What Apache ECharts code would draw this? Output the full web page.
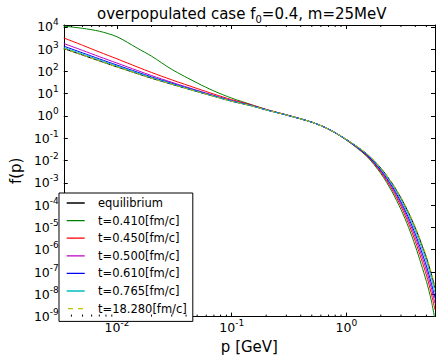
<!DOCTYPE html>
<html><head><meta charset="utf-8">
<script src="https://cdn.jsdelivr.net/npm/echarts@6/dist/echarts.min.js"></script>
<style>html,body{margin:0;padding:0;background:#fff}#c{width:436px;height:359px}</style>
</head><body><div id="c"></div>
<script>
// momentum grid p [GeV]
const p = [0.00343, 0.005, 0.007, 0.01, 0.015, 0.02, 0.03, 0.05, 0.07, 0.1, 0.15, 0.2, 0.3, 0.5, 0.7,
           1.0, 1.5, 2.0, 2.5, 3.0, 3.5, 4.0, 4.5, 5.0, 5.5, 5.94];
const fEquilibrium = [1.05e3, 537, 295, 158, 79.4, 49.0, 26.3, 12.3, 7.59, 4.57, 2.82, 1.86, 1.10, 0.525, 0.257,
           0.0891, 0.0204, 4.57e-3, 9.77e-4, 2.09e-4, 4.47e-5, 9.55e-6, 2.00e-6, 4.37e-7, 8.71e-8, 1.91e-8];
const fT0410 = [1.07e4, 8.51e3, 6.31e3, 3.55e3, 1.10e3, 479, 123, 30.2, 13.2, 6.31, 3.16, 1.95, 1.12, 0.525, 0.257,
           0.0832, 0.0158, 2.63e-3, 4.07e-4, 6.31e-5, 9.77e-6, 1.48e-6, 2.24e-7, 3.80e-8, 5.62e-9, 7.08e-10];
const fT0450 = [3.16e3, 1.48e3, 741, 363, 158, 89.1, 41.7, 17.0, 9.55, 5.37, 3.09, 1.95, 1.12, 0.525, 0.257,
           0.0851, 0.0170, 3.02e-3, 5.13e-4, 8.71e-5, 1.45e-5, 2.40e-6, 3.98e-7, 7.24e-8, 1.15e-8, 2.04e-9];
const fT0500 = [1.78e3, 871, 457, 234, 110, 64.6, 32.4, 14.1, 8.41, 4.90, 2.95, 1.91, 1.11, 0.525, 0.257,
           0.0851, 0.0178, 3.39e-3, 6.17e-4, 1.12e-4, 2.00e-5, 3.55e-6, 6.31e-7, 1.20e-7, 2.04e-8, 3.89e-9];
const fT0610 = [1.35e3, 676, 363, 191, 93.3, 56.2, 29.2, 13.2, 7.94, 4.73, 2.88, 1.88, 1.10, 0.525, 0.257,
           0.0871, 0.0186, 3.72e-3, 7.24e-4, 1.38e-4, 2.63e-5, 5.01e-6, 9.33e-7, 1.86e-7, 3.31e-8, 6.76e-9];
const fT0765 = [1.17e3, 596, 324, 172, 85.1, 51.9, 27.5, 12.7, 7.76, 4.62, 2.82, 1.86, 1.10, 0.525, 0.257,
           0.0871, 0.0200, 4.17e-3, 8.51e-4, 1.74e-4, 3.55e-5, 7.08e-6, 1.41e-6, 3.02e-7, 5.62e-8, 1.17e-8];
const fT18280 = [1.05e3, 537, 295, 158, 79.4, 49.0, 26.3, 12.3, 7.59, 4.57, 2.82, 1.86, 1.10, 0.525, 0.257,
           0.0891, 0.0209, 4.68e-3, 1.02e-3, 2.24e-4, 4.90e-5, 1.05e-5, 2.24e-6, 5.01e-7, 1.00e-7, 2.24e-8];
const seriesNames = ['equilibrium', 't=0.410[fm/c]', 't=0.450[fm/c]', 't=0.500[fm/c]',
                     't=0.610[fm/c]', 't=0.765[fm/c]', 't=18.280[fm/c]'];
const minorTicksX = [0.004, 0.005, 0.006, 0.007, 0.008, 0.009, 0.02, 0.03, 0.04, 0.05, 0.06, 0.07, 0.08, 0.09,
                     0.2, 0.3, 0.4, 0.5, 0.6, 0.7, 0.8, 0.9, 2, 3, 4, 5];
const xRange = [0.00343, 5.94];
const yRange = [1e-9, 1.2e4];

const seriesData = [fEquilibrium, fT0410, fT0450, fT0500, fT0610, fT0765, fT18280];
const colors = ['#000000', '#008000', '#ff0000', '#bf00bf', '#0000ff', '#00bfbf', '#bfbf00'];
const FONT = 'DejaVu Sans';

function powLabel(v) {
  const e = Math.round(Math.log10(v));
  return '{b|10}{s|' + e + '}';
}
const richTick = {
  b: { fontSize: 12.5, fontFamily: FONT, color: '#000' },
  s: { fontSize: 9, fontFamily: FONT, color: '#000', padding: [0, 0, 9, 0] }
};

const lineSeries = seriesNames.map((name, i) => ({
  name: name,
  type: 'line',
  data: p.map((x, k) => [x, seriesData[i][k]]),
  symbol: 'none',
  smooth: 0.3,
  xAxisIndex: 0, yAxisIndex: 0,
  lineStyle: { color: colors[i], width: 1, type: i === 6 ? [4, 3] : 'solid' },
  itemStyle: { color: colors[i] },
  z: i === 6 ? 3 : 2
}));

const minorSeries = {
  type: 'custom',
  xAxisIndex: 0, yAxisIndex: 0,
  silent: true,
  data: minorTicksX.map(v => [v, 1]),
  renderItem: function (params, api) {
    const x = api.coord([api.value(0), 1])[0];
    const cs = params.coordSys;
    return {
      type: 'group',
      children: [
        { type: 'line', shape: { x1: x, y1: cs.y + cs.height, x2: x, y2: cs.y + cs.height - 2 }, style: { stroke: '#000', lineWidth: 1 } },
        { type: 'line', shape: { x1: x, y1: cs.y, x2: x, y2: cs.y + 2 }, style: { stroke: '#000', lineWidth: 1 } }
      ]
    };
  },
  z: 5
};

// legend icons: a thin bar centred in an 18 x 17.6 box (tiny corner specks fix the box size)
const corners = ' M0,0 L0.01,0 L0,0.01 Z M18,17.6 L17.99,17.6 L18,17.59 Z';
const solidIcon = 'path://M0,8.15 H18 V9.45 H0 Z' + corners;
const dashIcon = 'path://M1.3,8.15 H6.3 V9.45 H1.3 Z M11.3,8.15 H16.3 V9.45 H11.3 Z' + corners;
const legendData = seriesNames.map((n, i) => ({ name: n, icon: i === 6 ? dashIcon : solidIcon }));

const baseAxisLine = { show: true, lineStyle: { color: '#000', width: 1 } };

const option = {
  animation: false,
  backgroundColor: '#fff',
  title: {
    text: '{t|overpopulated case f}{sub|0}{t|=0.4, m=25MeV}',
    left: 97,
    top: 4,
    padding: 0,
    textStyle: {
      fontSize: 15, fontWeight: 'normal', fontFamily: FONT, color: '#000',
      rich: {
        t: { fontSize: 15, fontFamily: FONT, color: '#000' },
        sub: { fontSize: 10, fontFamily: FONT, color: '#000', padding: [10, 0, 0, 0] }
      }
    }
  },
  grid: { left: 55, top: 25, width: 380, height: 299, containLabel: false },
  xAxis: [{
    type: 'log', logBase: 10, min: xRange[0], max: xRange[1], position: 'bottom',
    name: 'p [GeV]', nameLocation: 'middle', nameGap: 19,
    nameTextStyle: { fontSize: 15, fontFamily: FONT, color: '#000' },
    axisLine: baseAxisLine,
    axisTick: { show: true, inside: true, length: 4, lineStyle: { color: '#000' } },
    axisLabel: { show: true, formatter: powLabel, rich: richTick, showMinLabel: false, showMaxLabel: false, margin: 2 },
    splitLine: { show: false }, minorTick: { show: false }
  }, {
    type: 'log', logBase: 10, min: xRange[0], max: xRange[1], position: 'top',
    axisLine: baseAxisLine,
    axisTick: { show: true, inside: true, length: 4, lineStyle: { color: '#000' } },
    axisLabel: { show: false }, splitLine: { show: false }
  }],
  yAxis: [{
    type: 'log', logBase: 10, min: yRange[0], max: yRange[1], interval: 1, position: 'left',
    name: 'f(p)', nameLocation: 'middle', nameGap: 35, nameRotate: 90,
    nameTextStyle: { fontSize: 15, fontFamily: FONT, color: '#000' },
    axisLine: baseAxisLine,
    axisTick: { show: true, inside: true, length: 4, lineStyle: { color: '#000' } },
    axisLabel: { show: true, formatter: powLabel, rich: richTick, showMinLabel: true, showMaxLabel: false, margin: 5 },
    splitLine: { show: false }
  }, {
    type: 'log', logBase: 10, min: yRange[0], max: yRange[1], interval: 1, position: 'right',
    axisLine: baseAxisLine,
    axisTick: { show: true, inside: true, length: 4, lineStyle: { color: '#000' } },
    axisLabel: { show: false }, splitLine: { show: false }
  }],
  legend: {
    data: legendData,
    orient: 'vertical',
    left: 59, top: 193,
    itemWidth: 18, itemHeight: 17.6, itemGap: 0,
    symbolKeepAspect: true,
    padding: [1.2, 6, 4, 7.7],
    borderColor: '#000', borderWidth: 1, backgroundColor: '#fff',
    textStyle: { fontSize: 11.5, fontFamily: FONT, color: '#000', padding: [0, 0, 0, 8.3] }
  },
  series: lineSeries.concat([minorSeries])
};

const chart = echarts.init(document.getElementById('c'), null, { renderer: 'svg' });
chart.setOption(option);
</script>
</body></html>
